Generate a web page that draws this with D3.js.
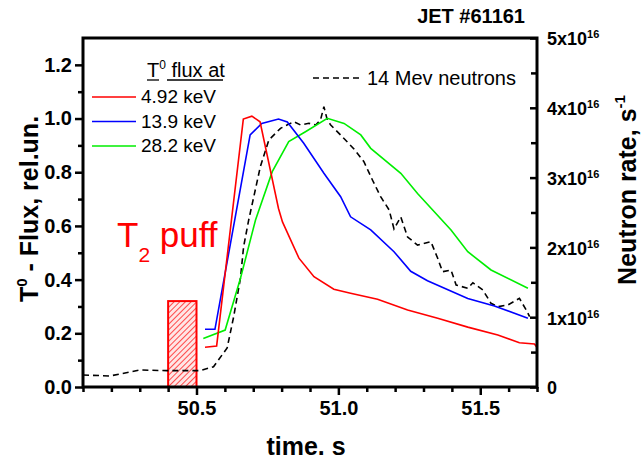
<!DOCTYPE html>
<html>
<head>
<meta charset="utf-8">
<script src="https://cdn.jsdelivr.net/npm/d3@7"></script>
<style>
    body { margin: 0; background: #fff; }
    svg text { font-family: "Liberation Sans", Arial, sans-serif; }
</style>
</head>
<body>
<svg id="chart"></svg>
<script>
// Axis ranges
const timeDomain = [50.1, 51.7];
const fluxDomain = [0, 1.3];
const neutronDomain = [0, 5];          // units of 1e16 s^-1

// Tick values
const timeTicks = [50.5, 51.0, 51.5];
const timeMinorTicks = [50.1, 50.2, 50.3, 50.4, 50.6, 50.7, 50.8, 50.9, 51.1, 51.2, 51.3, 51.4, 51.6, 51.7];
const fluxTicks = [0, 0.2, 0.4, 0.6, 0.8, 1.0, 1.2];
const fluxMinorTicks = [0.1, 0.3, 0.5, 0.7, 0.9, 1.1];
const neutronTicks = [0, 1, 2, 3, 4, 5];
const neutronMinorTicks = [0.5, 1.5, 2.5, 3.5, 4.5];

// Series: [time s, value]
const energyLabels = ['4.92 keV', '13.9 keV', '28.2 keV'];
const flux492 = [
    [50.530, 0.148], [50.571, 0.153], [50.665, 0.998], [50.695, 1.009], [50.724, 0.988],
    [50.789, 0.665], [50.803, 0.615], [50.861, 0.480], [50.914, 0.411], [50.984, 0.364],
    [51.043, 0.349], [51.138, 0.327], [51.244, 0.287], [51.350, 0.256], [51.456, 0.223],
    [51.562, 0.194], [51.638, 0.165], [51.691, 0.160], [51.715, 0.127]
];
const flux139 = [
    [50.530, 0.215], [50.565, 0.215], [50.689, 0.939], [50.730, 0.982], [50.789, 0.998],
    [50.820, 0.987], [50.878, 0.908], [50.949, 0.796], [51.008, 0.709], [51.043, 0.634],
    [51.114, 0.585], [51.196, 0.504], [51.255, 0.431], [51.314, 0.396], [51.456, 0.330],
    [51.550, 0.302], [51.668, 0.256]
];
const flux282 = [
    [50.524, 0.181], [50.601, 0.212], [50.655, 0.405], [50.708, 0.622], [50.767, 0.802],
    [50.825, 0.914], [50.884, 0.951], [50.961, 1.001], [51.020, 0.982], [51.079, 0.939],
    [51.114, 0.889], [51.220, 0.796], [51.279, 0.721], [51.397, 0.585], [51.456, 0.504],
    [51.538, 0.436], [51.668, 0.368]
];
const neutrons = [
    [50.100, 0.172], [50.195, 0.158], [50.301, 0.244], [50.396, 0.234], [50.513, 0.234],
    [50.560, 0.291], [50.608, 0.559], [50.631, 1.007], [50.655, 1.562], [50.666, 2.010],
    [50.684, 2.393], [50.725, 3.156], [50.755, 3.539], [50.796, 3.706], [50.843, 3.801],
    [50.867, 3.754], [50.896, 3.778], [50.920, 3.754], [50.937, 3.825], [50.949, 4.016],
    [50.961, 3.825], [50.973, 3.754], [51.008, 3.610], [51.055, 3.410], [51.090, 3.228],
    [51.120, 2.966], [51.149, 2.726], [51.179, 2.536], [51.196, 2.264], [51.220, 2.436],
    [51.244, 2.149], [51.279, 2.034], [51.326, 2.082], [51.350, 1.844], [51.367, 1.652],
    [51.397, 1.676], [51.415, 1.461], [51.456, 1.414], [51.474, 1.494], [51.509, 1.390],
    [51.538, 1.199], [51.562, 1.150], [51.597, 1.175], [51.638, 1.271], [51.662, 1.103],
    [51.674, 1.007]
];

// T2 puff window
const puffStart = 50.4;
const puffEnd = 50.5;
const puffLevel = 0.32;

const width = 643;
const height = 464;
const margin = { top: 38, right: 106, bottom: 77, left: 83 };

const svg = d3.select('#chart')
    .attr('width', width)
    .attr('height', height);

const x = d3.scaleLinear()
    .domain(timeDomain)
    .range([margin.left, width - margin.right]);

const yFlux = d3.scaleLinear()
    .domain(fluxDomain)
    .range([height - margin.bottom, margin.top]);

const yNeutron = d3.scaleLinear()
    .domain(neutronDomain)
    .range([height - margin.bottom, margin.top]);

const plotBottom = height - margin.bottom;
const plotRight = width - margin.right;

// Clip + hatch pattern
const defs = svg.append('defs');
defs.append('clipPath')
    .attr('id', 'plot-clip')
    .append('rect')
    .attr('x', margin.left)
    .attr('y', margin.top)
    .attr('width', plotRight - margin.left)
    .attr('height', plotBottom - margin.top);

const hatch = defs.append('pattern')
    .attr('id', 'hatch')
    .attr('patternUnits', 'userSpaceOnUse')
    .attr('width', 4)
    .attr('height', 4)
    .attr('patternTransform', 'rotate(45)');
hatch.append('rect')
    .attr('width', 4)
    .attr('height', 4)
    .attr('fill', '#ffe6e6');
hatch.append('line')
    .attr('x1', 0).attr('y1', 0)
    .attr('x2', 0).attr('y2', 4)
    .attr('stroke', '#ff2020')
    .attr('stroke-width', 1.6);

// Puff window
svg.append('rect')
    .attr('x', x(puffStart))
    .attr('y', yFlux(puffLevel))
    .attr('width', x(puffEnd) - x(puffStart))
    .attr('height', yFlux(0) - yFlux(puffLevel))
    .attr('fill', 'url(#hatch)')
    .attr('stroke', '#ff0000')
    .attr('stroke-width', 2);

// Curves
const plot = svg.append('g').attr('clip-path', 'url(#plot-clip)');

const fluxLine = d3.line()
    .x(d => x(d[0]))
    .y(d => yFlux(d[1]));

const neutronLine = d3.line()
    .x(d => x(d[0]))
    .y(d => yNeutron(d[1]));

plot.append('path')
    .datum(neutrons)
    .attr('d', neutronLine)
    .attr('fill', 'none')
    .attr('stroke', '#000')
    .attr('stroke-width', 1.6)
    .attr('stroke-dasharray', '6,4');

const fluxSeries = [
    { data: flux282, color: '#00ee00' },
    { data: flux139, color: '#0000ff' },
    { data: flux492, color: '#ff0000' }
];

plot.selectAll('.flux')
    .data(fluxSeries)
    .enter()
    .append('path')
    .attr('class', 'flux')
    .attr('d', d => fluxLine(d.data))
    .attr('fill', 'none')
    .attr('stroke', d => d.color)
    .attr('stroke-width', 1.6);

// Frame
svg.append('rect')
    .attr('x', margin.left)
    .attr('y', margin.top)
    .attr('width', plotRight - margin.left)
    .attr('height', plotBottom - margin.top)
    .attr('fill', 'none')
    .attr('stroke', '#000')
    .attr('stroke-width', 3);

// Axes
const tickFont = g => g.selectAll('text')
    .attr('font-size', '20px')
    .attr('font-weight', 'bold')
    .attr('fill', '#000');

const styleAxis = g => {
    g.select('.domain').remove();
    g.selectAll('line').attr('stroke', '#000').attr('stroke-width', 2.5);
};

svg.append('g')
    .attr('transform', `translate(0,${plotBottom})`)
    .call(d3.axisBottom(x).tickValues(timeTicks).tickSize(8).tickPadding(6).tickFormat(d3.format('.1f')))
    .call(styleAxis)
    .call(tickFont);

svg.append('g')
    .attr('transform', `translate(0,${plotBottom})`)
    .call(d3.axisBottom(x).tickValues(timeMinorTicks).tickSize(5).tickFormat(''))
    .call(styleAxis);

svg.append('g')
    .attr('transform', `translate(${margin.left},0)`)
    .call(d3.axisLeft(yFlux).tickValues(fluxTicks).tickSize(8).tickPadding(3).tickFormat(d3.format('.1f')))
    .call(styleAxis)
    .call(tickFont);

svg.append('g')
    .attr('transform', `translate(${margin.left},0)`)
    .call(d3.axisLeft(yFlux).tickValues(fluxMinorTicks).tickSize(5).tickFormat(''))
    .call(styleAxis);

const rightAxis = svg.append('g')
    .attr('transform', `translate(${plotRight},0)`)
    .call(d3.axisRight(yNeutron).tickValues(neutronTicks).tickSize(-7).tickPadding(10).tickFormat(''))
    .call(styleAxis);

svg.append('g')
    .attr('transform', `translate(${plotRight},0)`)
    .call(d3.axisRight(yNeutron).tickValues(neutronMinorTicks).tickSize(-6).tickFormat(''))
    .call(styleAxis);

// Right tick labels with powers of ten
const rightLabels = rightAxis.selectAll('.tick text')
    .attr('font-size', '18px')
    .attr('font-weight', 'bold')
    .attr('fill', '#000')
    .attr('dy', '0.38em');

rightLabels.each(function(d) {
    const t = d3.select(this);
    if (d === 0) {
        t.append('tspan').text('0');
        return;
    }
    t.append('tspan').text(`${d}x10`);
    t.append('tspan')
        .attr('dy', -7)
        .attr('font-size', '11px')
        .text('16');
});

// Axis titles
svg.append('text')
    .attr('transform', `translate(38,209) rotate(-90)`)
    .attr('text-anchor', 'middle')
    .attr('font-size', '25px')
    .attr('font-weight', 'bold')
    .call(t => {
        t.append('tspan').text('T');
        t.append('tspan').attr('dy', -11).attr('font-size', '15px').text('0');
        t.append('tspan').attr('dy', 11).text(' - Flux, rel.un.');
    });

svg.append('text')
    .attr('transform', `translate(636,190) rotate(-90)`)
    .attr('text-anchor', 'middle')
    .attr('font-size', '25px')
    .attr('font-weight', 'bold')
    .call(t => {
        t.append('tspan').text('Neutron rate, s');
        t.append('tspan').attr('dy', -11).attr('font-size', '15px').text('-1');
    });

svg.append('text')
    .attr('x', 306)
    .attr('y', 455)
    .attr('text-anchor', 'middle')
    .attr('font-size', '25px')
    .attr('font-weight', 'bold')
    .text('time. s');

svg.append('text')
    .attr('x', 525)
    .attr('y', 23)
    .attr('text-anchor', 'end')
    .attr('font-size', '20px')
    .attr('font-weight', 'bold')
    .text('JET #61161');

// Flux legend
const legend = svg.append('g');

legend.append('text')
    .attr('x', 147)
    .attr('y', 77)
    .attr('font-size', '20px')
    .call(t => {
        t.append('tspan').text('T');
        t.append('tspan').attr('dy', -8).attr('font-size', '12px').text('0');
        t.append('tspan').attr('dy', 8).text(' flux at');
    });
legend.append('line')
    .attr('x1', 147).attr('x2', 159)
    .attr('y1', 80).attr('y2', 80)
    .attr('stroke', '#000').attr('stroke-width', 1.3);
legend.append('line')
    .attr('x1', 167).attr('x2', 223)
    .attr('y1', 80).attr('y2', 80)
    .attr('stroke', '#000').attr('stroke-width', 1.3);

const legendRows = legend.selectAll('.row')
    .data(energyLabels.map((label, i) => ({ label, color: fluxSeries[2 - i].color, i })))
    .enter()
    .append('g')
    .attr('class', 'row')
    .attr('transform', d => `translate(0,${97 + d.i * 24.5})`);

legendRows.append('line')
    .attr('x1', 92).attr('x2', 136)
    .attr('stroke', d => d.color)
    .attr('stroke-width', 1.6);

legendRows.append('text')
    .attr('x', 141)
    .attr('y', 6)
    .attr('font-size', '19px')
    .text(d => d.label);

// Neutron legend
svg.append('line')
    .attr('x1', 313).attr('x2', 362)
    .attr('y1', 78).attr('y2', 78)
    .attr('stroke', '#000')
    .attr('stroke-width', 1.6)
    .attr('stroke-dasharray', '6,4');

svg.append('text')
    .attr('x', 367)
    .attr('y', 85)
    .attr('font-size', '20px')
    .text('14 Mev neutrons');

// T2 puff annotation
svg.append('text')
    .attr('x', 117)
    .attr('y', 247)
    .attr('font-size', '35px')
    .attr('fill', '#ff0000')
    .call(t => {
        t.append('tspan').text('T');
        t.append('tspan').attr('dy', 15).attr('font-size', '21px').text('2');
        t.append('tspan').attr('dy', -15).text(' puff');
    });
</script>
</body>
</html>
